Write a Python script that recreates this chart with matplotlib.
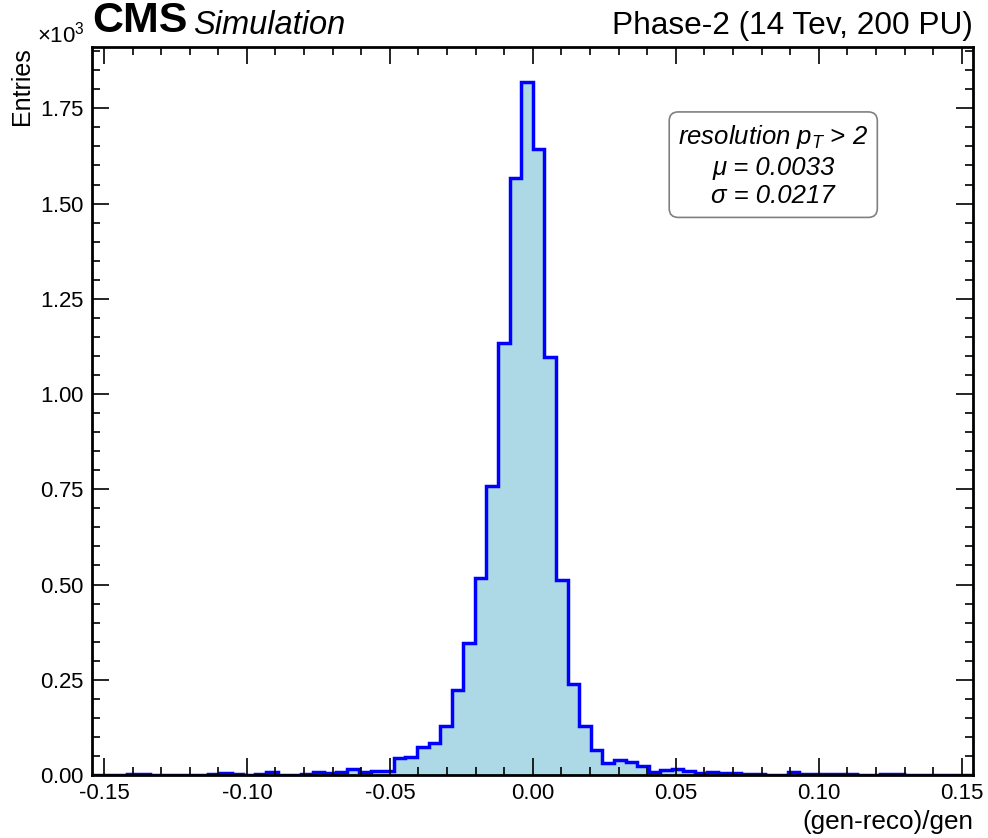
import numpy as np
import matplotlib
matplotlib.use("Agg")
import matplotlib.pyplot as plt
from matplotlib.ticker import MultipleLocator

plt.rcParams['font.family'] = ['Liberation Sans', 'DejaVu Sans']
plt.rcParams['mathtext.fontset'] = 'custom'
plt.rcParams['mathtext.rm'] = 'Liberation Sans'
plt.rcParams['mathtext.it'] = 'Liberation Sans:italic'
plt.rcParams['mathtext.bf'] = 'Liberation Sans:bold'
plt.rcParams['axes.unicode_minus'] = False

# histogram: 76 bins between -0.154 and 0.154
x_lo, x_hi, n_bins = -0.154, 0.154, 76
counts = [0, 0, 0, 2, 2, 0, 0, 1, 1, 1,
          3, 6, 2, 0, 3, 7, 1, 1, 3, 8,
          5, 8, 17, 9, 10, 11, 45, 48, 73, 83,
          129, 223, 346, 516, 759, 1134, 1567, 1820, 1643, 1097,
          512, 240, 129, 65, 31, 39, 35, 24, 7, 13,
          15, 11, 4, 9, 6, 4, 2, 2, 1, 1,
          7, 3, 2, 2, 3, 3, 1, 1, 3, 2,
          1, 1, 0, 0, 0, 0]
stat_lines = ["resolution $p_T$ > 2",
              "\u03bc = 0.0033",
              "\u03c3 = 0.0217"]

edges = np.linspace(x_lo, x_hi, n_bins + 1)

fig = plt.figure(figsize=(9.88, 8.38), dpi=100)
ax = fig.add_axes([0.0936, 0.0752, 0.8914, 0.8687])

ax.stairs(counts, edges, fill=True, color='lightblue')
ax.stairs(counts, edges, color='blue', lw=2.5)

ax.set_xlim(x_lo, x_hi)
ax.set_ylim(0, 1911)

ax.xaxis.set_major_locator(MultipleLocator(0.05))
ax.xaxis.set_minor_locator(MultipleLocator(0.01))
ax.yaxis.set_major_locator(MultipleLocator(250))
ax.yaxis.set_minor_locator(MultipleLocator(50))
ax.ticklabel_format(axis='y', style='sci', scilimits=(0, 0), useMathText=True)

ax.tick_params(which='both', direction='in', top=True, right=True, labelsize=16, width=1.2)
ax.tick_params(which='major', length=12, pad=6)
ax.tick_params(which='minor', length=6)
for s in ax.spines.values():
    s.set_linewidth(2)

off = ax.yaxis.get_offset_text()
off.set_fontsize(16)
off.set_horizontalalignment('right')
off.set_x(-0.009)

ax.set_ylabel("Entries", fontsize=18, loc='top')
ax.set_xlabel("(gen-reco)/gen", fontsize=18.8, loc='right')

ax.text(0.0, 1.008, "CMS", transform=ax.transAxes, fontsize=31, fontweight='bold',
        ha='left', va='bottom')
ax.text(0.114, 1.008, "Simulation", transform=ax.transAxes, fontsize=23.5, style='italic',
        ha='left', va='bottom')
ax.text(1.0, 1.008, "Phase-2 (14 Tev, 200 PU)", transform=ax.transAxes, fontsize=22.8,
        ha='right', va='bottom')

ax.text(0.773, 0.837, "\n".join(stat_lines), transform=ax.transAxes, fontsize=18.5,
        style='italic', ha='center', va='center', multialignment='center', linespacing=1.25,
        bbox=dict(boxstyle='round,pad=0.35', fc='white', ec='gray', lw=1.2))

fig.savefig("out.png", dpi=100)
